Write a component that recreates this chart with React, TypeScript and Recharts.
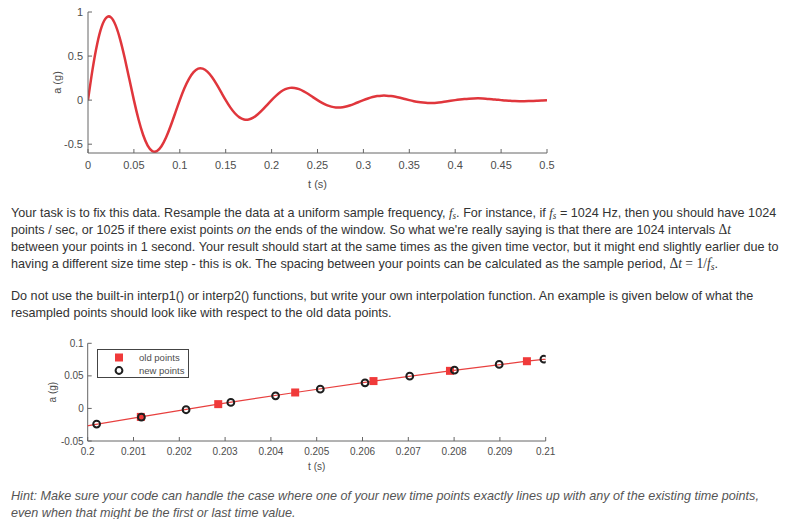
import React from 'react';
import { LineChart, Line, XAxis, YAxis, ComposedChart, Scatter, Legend, Label } from 'recharts';

const RESPONSE_T = [
  0, 0.005, 0.01, 0.015, 0.02, 0.025, 0.03, 0.035, 0.04, 0.045,
  0.05, 0.055, 0.06, 0.065, 0.07, 0.075, 0.08, 0.085, 0.09, 0.095,
  0.1, 0.105, 0.11, 0.115, 0.12, 0.125, 0.13, 0.135, 0.14, 0.145,
  0.15, 0.155, 0.16, 0.165, 0.17, 0.175, 0.18, 0.185, 0.19, 0.195,
  0.2, 0.205, 0.21, 0.215, 0.22, 0.225, 0.23, 0.235, 0.24, 0.245,
  0.25, 0.255, 0.26, 0.265, 0.27, 0.275, 0.28, 0.285, 0.29, 0.295,
  0.3, 0.305, 0.31, 0.315, 0.32, 0.325, 0.33, 0.335, 0.34, 0.345,
  0.35, 0.355, 0.36, 0.365, 0.37, 0.375, 0.38, 0.385, 0.39, 0.395,
  0.4, 0.405, 0.41, 0.415, 0.42, 0.425, 0.43, 0.435, 0.44, 0.445,
  0.45, 0.455, 0.46, 0.465, 0.47, 0.475, 0.48, 0.485, 0.49, 0.495,
  0.5,
];
const RESPONSE_A = [
  0, 0.352, 0.638, 0.837, 0.937, 0.939, 0.851, 0.69, 0.478, 0.239,
  0, -0.217, -0.393, -0.516, -0.578, -0.579, -0.524, -0.425, -0.294, -0.147,
  0, 0.134, 0.242, 0.318, 0.358, 0.357, 0.323, 0.262, 0.181, 0.091,
  0, -0.082, -0.149, -0.196, -0.219, -0.22, -0.199, -0.161, -0.112, -0.056,
  0, 0.051, 0.094, 0.124, 0.139, 0.138, 0.124, 0.099, 0.069, 0.034,
  0, -0.031, -0.057, -0.074, -0.083, -0.084, -0.076, -0.061, -0.042, -0.021,
  0, 0.019, 0.035, 0.046, 0.051, 0.051, 0.047, 0.038, 0.026, 0.013,
  0, -0.012, -0.022, -0.028, -0.032, -0.032, -0.029, -0.023, -0.016, -0.008,
  0, 0.007, 0.013, 0.017, 0.019, 0.02, 0.018, 0.014, 0.01, 0.005,
  0, -0.005, -0.008, -0.011, -0.012, -0.012, -0.011, -0.009, -0.006, -0.003,
  0,
];
const TOP_X_TICKS = [0, 0.05, 0.1, 0.15, 0.2, 0.25, 0.3, 0.35, 0.4, 0.45, 0.5];
const TOP_Y_TICKS = [-0.5, 0, 0.5, 1];

// bottom plot: zoom on 0.2 - 0.21 s
const OLD_T = [0.19948, 0.20116, 0.20285, 0.20453, 0.20624, 0.20791, 0.20959, 0.21127];
const OLD_A = [-0.0325, -0.013, 0.0066, 0.0245, 0.042, 0.0577, 0.0725, 0.085];
const NEW_T = [0.200195, 0.201172, 0.202148, 0.203125, 0.204102, 0.205078, 0.206055, 0.207031, 0.208008, 0.208984, 0.209961];
const NEW_A = [-0.024, -0.0134, -0.002, 0.0092, 0.0193, 0.0296, 0.0393, 0.0495, 0.0587, 0.0675, 0.0756];
const ZOOM_X_TICKS = [0.2, 0.201, 0.202, 0.203, 0.204, 0.205, 0.206, 0.207, 0.208, 0.209, 0.21];
const ZOOM_Y_TICKS = [-0.05, 0, 0.05, 0.1];

const FONT = '"Liberation Sans", Arial, Helvetica, sans-serif';
const SERIF = '"Liberation Serif", "Times New Roman", serif';
const AXIS = '#666666';
const TXT = '#4d4d4d';
const CURVE_RED = '#e0363c';
const SQUARE_RED = '#f03a3a';

const responseData = RESPONSE_T.map((t, i) => ({ t, a: RESPONSE_A[i] }));
const oldData = OLD_T.map((x, i) => ({ x, y: OLD_A[i] }));
const newData = NEW_T.map((x, i) => ({ x, y: NEW_A[i] }));

const Square = (p: any) => (
  <rect x={p.cx - 4} y={p.cy - 4} width={8} height={8} fill={SQUARE_RED} />
);
const Ring = (p: any) => (
  <circle cx={p.cx} cy={p.cy} r={3.4} fill="none" stroke="#1e1e1e" strokeWidth={2} />
);

const LegendBox = () => (
  <svg width={93} height={30} style={{ display: 'block' }}>
    <rect x={0.5} y={0.5} width={91} height={28} fill="#fff" stroke="#444" strokeWidth={1} />
    <rect x={18} y={4.5} width={8} height={8} fill={SQUARE_RED} />
    <text x={42} y={11.8} fontSize={9.5} fontFamily={FONT} fill={TXT}>old points</text>
    <circle cx={22} cy={21.5} r={3.4} fill="none" stroke="#1e1e1e" strokeWidth={2} />
    <text x={42} y={25} fontSize={9.5} fontFamily={FONT} fill={TXT}>new points</text>
  </svg>
);

const sym = { fontFamily: SERIF, fontStyle: 'italic' as const };
const Fs = () => (
  <span style={sym}>
    f<span style={{ fontSize: '0.72em', verticalAlign: '-0.2em' }}>s</span>
  </span>
);
const Dt = () => (
  <span style={{ fontFamily: SERIF, fontSize: 14 }}>
    Δ<i>t</i>
  </span>
);

// the page text is narrower than Liberation Sans, so squeeze it a little
const textLine = (top: number, italic = false): React.CSSProperties => ({
  position: 'absolute',
  left: 11,
  top,
  lineHeight: '17px',
  whiteSpace: 'nowrap',
  fontFamily: FONT,
  fontSize: 13,
  color: italic ? '#555' : '#333',
  fontStyle: italic ? 'italic' : 'normal',
  transform: 'scaleX(0.97)',
  transformOrigin: '0 0',
});

export default function App() {
  const tickStyle = { fill: TXT, fontSize: 11, fontFamily: FONT };
  const smallTick = { fill: TXT, fontSize: 10, fontFamily: FONT };

  return (
    <div style={{ position: 'relative', width: 789, height: 527, margin: -8, background: '#fff', overflow: 'hidden' }}>
      <div style={{ position: 'absolute', left: 0, top: 0 }}>
        <LineChart width={600} height={215} data={responseData} margin={{ top: 12, right: 53, bottom: 0, left: 27 }}>
          <XAxis
            dataKey="t"
            type="number"
            domain={[0, 0.5]}
            ticks={TOP_X_TICKS}
            interval={0}
            height={62}
            tickSize={-4}
            tickMargin={12}
            stroke={AXIS}
            tick={tickStyle}
            allowDataOverflow
          >
            <Label value="t (s)" position="center" fill={TXT} fontSize={11} fontFamily={FONT} />
          </XAxis>
          <XAxis xAxisId="top" orientation="top" type="number" domain={[0, 0.5]} ticks={TOP_X_TICKS} interval={0}
            height={0} tickSize={-4} tick={false} stroke={AXIS} allowDataOverflow />
          <YAxis
            type="number"
            domain={[-0.6, 1]}
            ticks={TOP_Y_TICKS}
            interval={0}
            width={61}
            tickSize={-4}
            tickMargin={9}
            stroke={AXIS}
            tick={tickStyle}
            allowDataOverflow
          >
            <Label value="a (g)" angle={-90} position="center" fill={TXT} fontSize={11} fontFamily={FONT} />
          </YAxis>
          <YAxis yAxisId="right" orientation="right" type="number" domain={[-0.6, 1]} ticks={TOP_Y_TICKS} interval={0}
            width={0} tickSize={-4} tick={false} stroke={AXIS} allowDataOverflow />
          <Line dataKey="a" type="natural" stroke={CURVE_RED} strokeWidth={2.5} dot={false} isAnimationActive={false} />
        </LineChart>
      </div>

      <div style={textLine(204)}>
        Your task is to fix this data. Resample the data at a uniform sample frequency, <Fs />. For instance, if <Fs /> = 1024 Hz, then you should have 1024
      </div>
      <div style={textLine(221)}>
        points / sec, or 1025 if there exist points <i>on</i> the ends of the window. So what we're really saying is that there are 1024 intervals <Dt />
      </div>
      <div style={textLine(238)}>
        between your points in 1 second. Your result should start at the same times as the given time vector, but it might end slightly earlier due to
      </div>
      <div style={textLine(255)}>
        having a different size time step - this is ok. The spacing between your points can be calculated as the sample period,{' '}
        <span style={{ fontFamily: SERIF, fontSize: 14 }}>
          Δ<i>t</i> = 1/<i>f</i>
          <i style={{ fontSize: '0.72em', verticalAlign: '-0.2em' }}>s</i>
        </span>
        .
      </div>
      <div style={textLine(287)}>
        Do not use the built-in interp1() or interp2() functions, but write your own interpolation function. An example is given below of what the
      </div>
      <div style={textLine(304)}>resampled points should look like with respect to the old data points.</div>

      <div style={{ position: 'absolute', left: 0, top: 330 }}>
        <ComposedChart width={600} height={161} margin={{ top: 13.3, right: 54.3, bottom: 0, left: 16.3 }}>
          <XAxis
            dataKey="x"
            type="number"
            domain={[0.2, 0.21]}
            ticks={ZOOM_X_TICKS}
            interval={0}
            height={50}
            tickSize={-4}
            tickMargin={11}
            stroke={AXIS}
            tick={smallTick}
            allowDataOverflow
          >
            <Label value="t (s)" position="center" fill={TXT} fontSize={10} fontFamily={FONT} />
          </XAxis>
          <XAxis xAxisId="top" orientation="top" type="number" domain={[0.2, 0.21]} ticks={ZOOM_X_TICKS} interval={0}
            height={0} tickSize={-4} tick={false} stroke={AXIS} allowDataOverflow />
          <YAxis
            dataKey="y"
            type="number"
            domain={[-0.05, 0.1]}
            ticks={ZOOM_Y_TICKS}
            interval={0}
            width={71.4}
            tickSize={-4}
            tickMargin={8}
            stroke={AXIS}
            tick={smallTick}
            allowDataOverflow
          >
            <Label value="a (g)" angle={-90} position="center" fill={TXT} fontSize={10} fontFamily={FONT} />
          </YAxis>
          <YAxis yAxisId="right" orientation="right" type="number" domain={[-0.05, 0.1]} ticks={ZOOM_Y_TICKS} interval={0}
            width={0} tickSize={-4} tick={false} stroke={AXIS} allowDataOverflow />
          <Legend
            layout="horizontal"
            verticalAlign="middle"
            align="center"
            content={() => <LegendBox />}
            wrapperStyle={{ left: 97, top: 19, width: 93, height: 30 }}
          />
          <Scatter
            name="old points"
            data={oldData}
            fill={SQUARE_RED}
            line={{ stroke: '#e8403f', strokeWidth: 1.2 }}
            lineType="joint"
            shape={Square}
            isAnimationActive={false}
          />
          <Scatter name="new points" data={newData} fill="#1e1e1e" shape={Ring} isAnimationActive={false} />
        </ComposedChart>
      </div>

      <div style={textLine(487, true)}>
        Hint: Make sure your code can handle the case where one of your new time points exactly lines up with any of the existing time points,
      </div>
      <div style={textLine(504, true)}>even when that might be the first or last time value.</div>
    </div>
  );
}
